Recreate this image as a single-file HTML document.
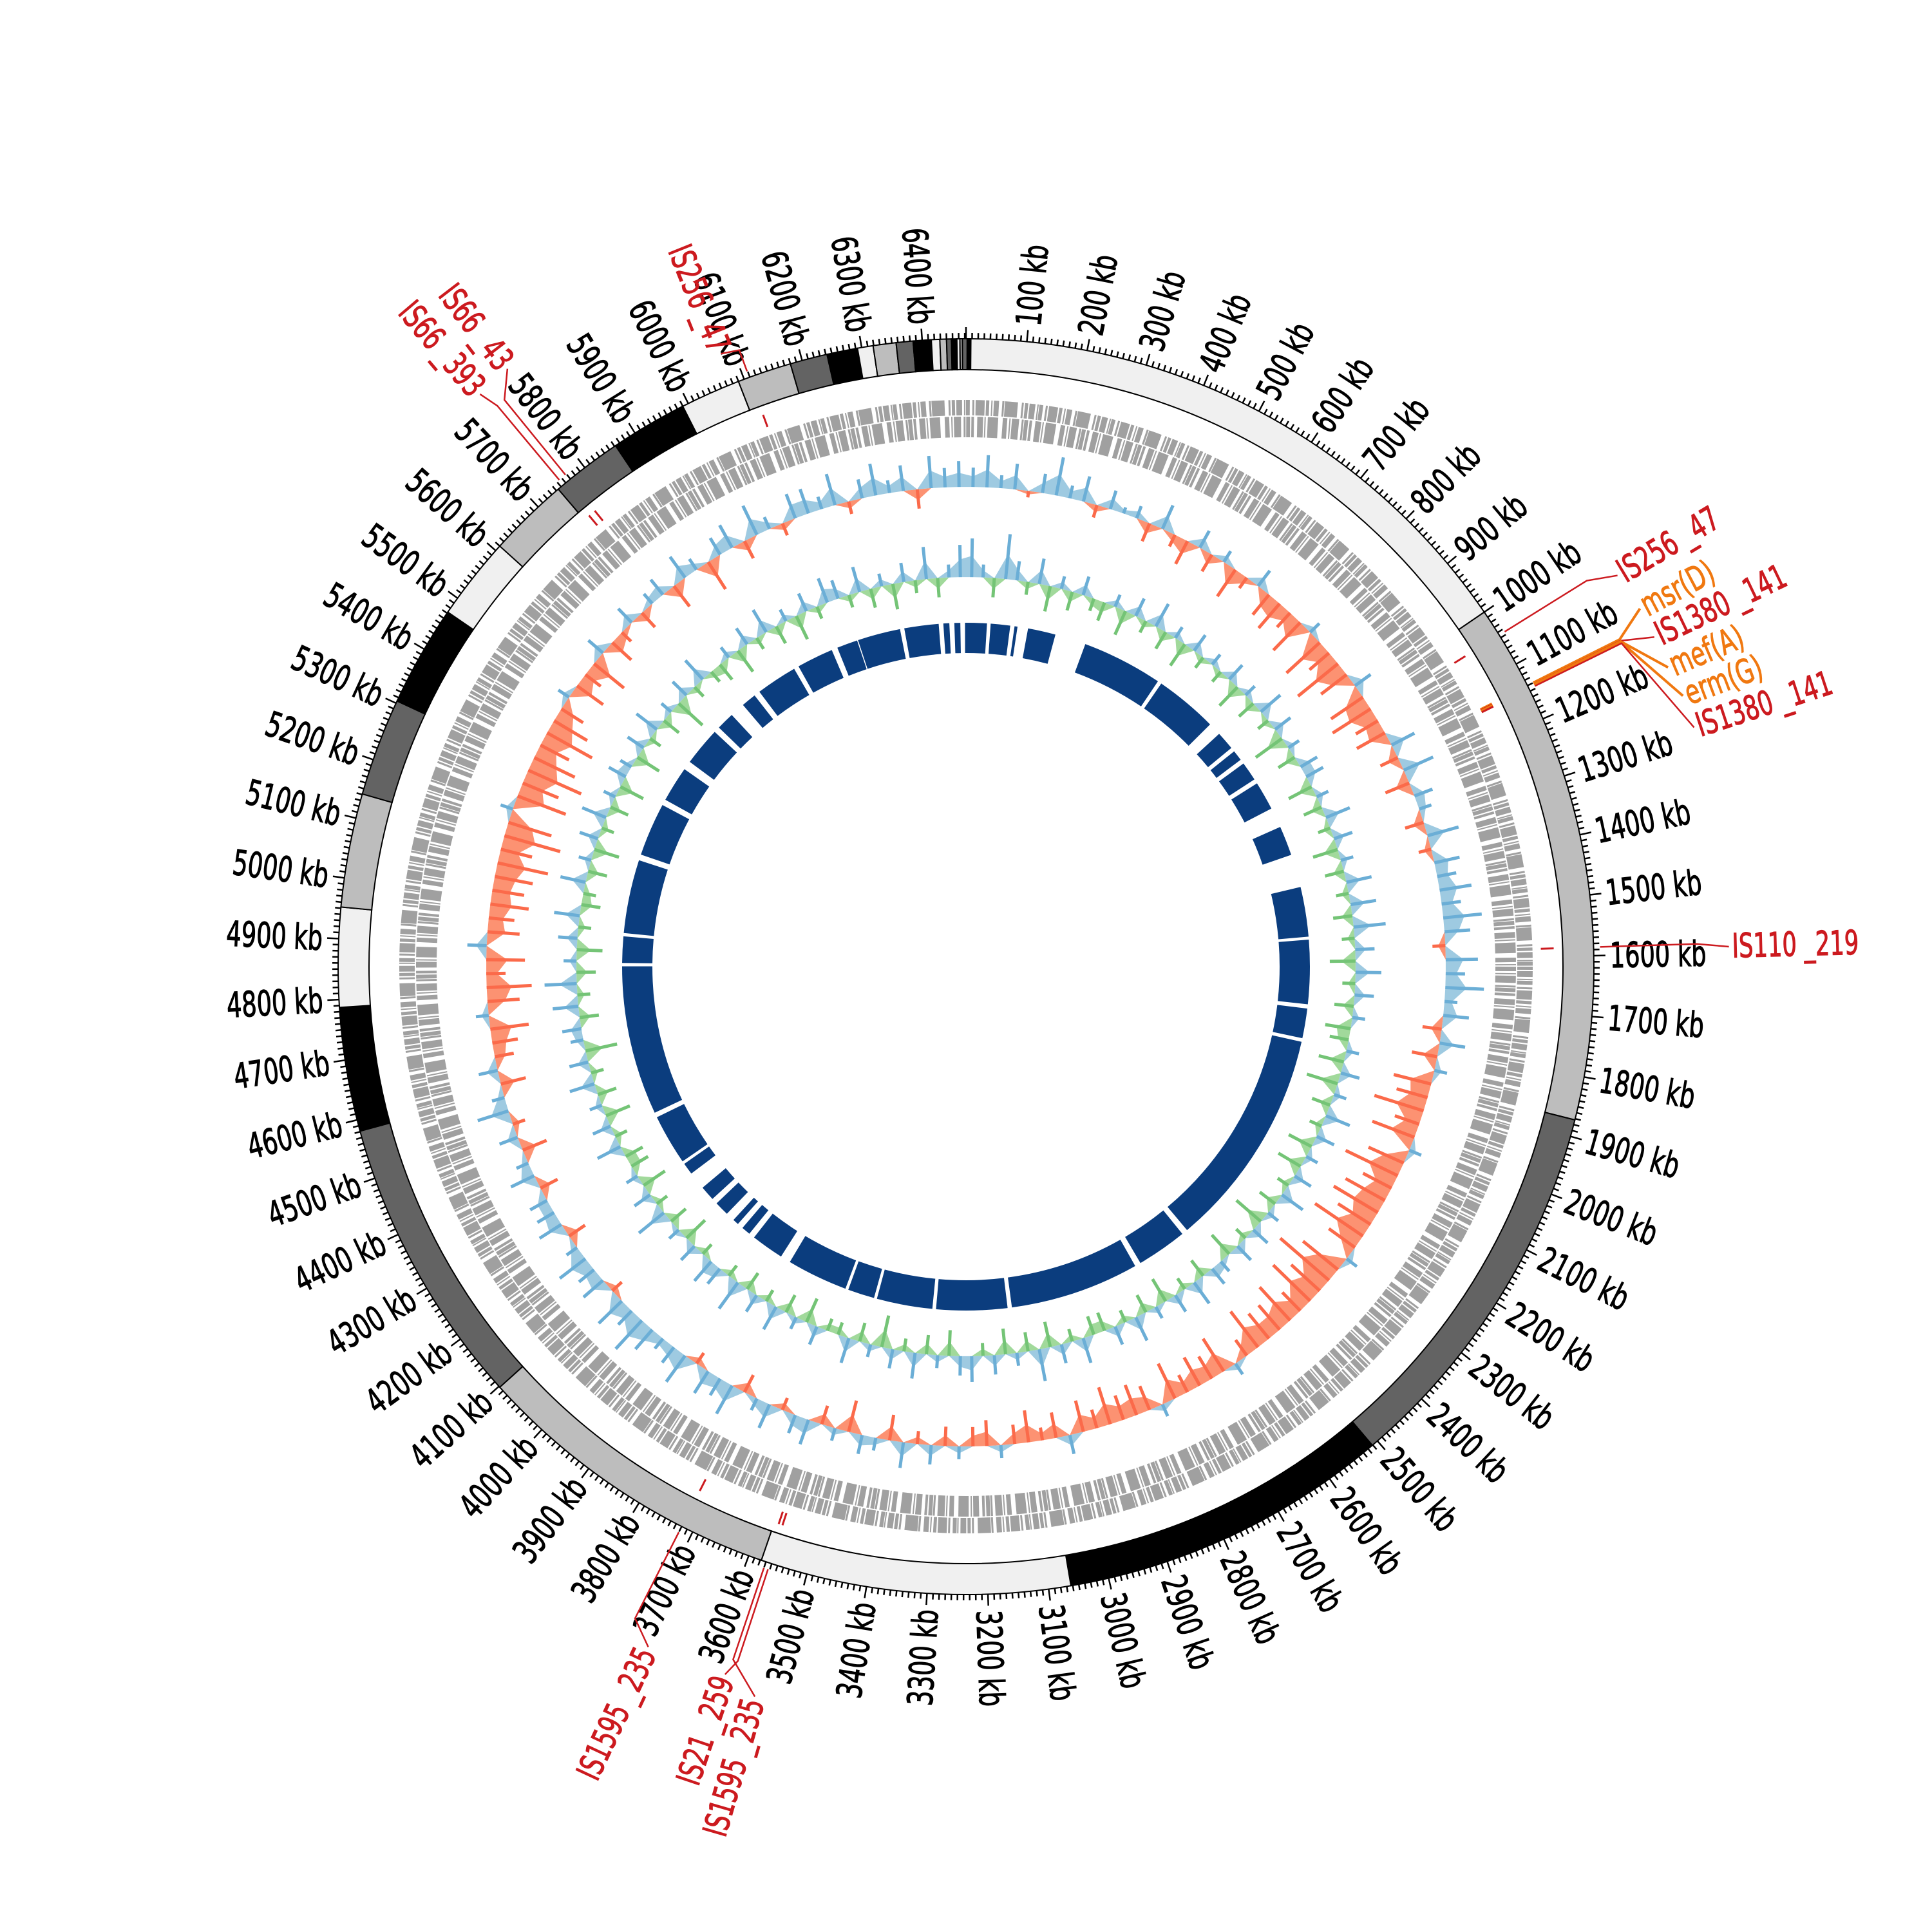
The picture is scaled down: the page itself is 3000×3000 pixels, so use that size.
<!DOCTYPE html>
<html><head><meta charset="utf-8"><style>
html,body{margin:0;padding:0;background:#fff;}
svg{display:block;}
text{font-family:"DejaVu Sans","Liberation Sans",sans-serif;}
</style></head><body>
<svg id="chart" width="3000" height="3000" viewBox="0 0 3000 3000" xmlns="http://www.w3.org/2000/svg">
<rect width="3000" height="3000" fill="#fff"/>
<g id="g-contigs"></g>
<g id="g-ticks"></g>
<g id="g-genes"></g>
<g id="g-skew"></g>
<g id="g-gc"></g>
<g id="g-blocks"></g>
<g id="g-annot"></g>
</svg>
<script>
const TOTAL_KB = 6472;
const contigLengths = [1000,872,639,552,515,520,483,206,165,189,163,168,138,134,118,128,100,90,62,51,26,38,28,30,14,11,8,9,5,4,8,6];
const contigColors = ["#f0f0f0","#bdbdbd","#636363","#000000"];
const tickLabelsKb = [];
for (let k = 100; k <= 6400; k += 100) tickLabelsKb.push(k);
const skewValues = [
0.03,0.05,0.02,0.04,-0.01,0.03,0.06,0.02,0.04,-0.02,0.03,0.01,
0.02,-0.03,0.04,-0.02,-0.04,0.03,-0.03,0.02,-0.05,-0.02,0.03,-0.04,
-0.05,-0.03,-0.06,0.02,-0.07,-0.04,-0.08,-0.05,0.03,-0.06,-0.07,-0.04,
-0.05,0.04,-0.03,0.05,-0.04,0.03,0.02,-0.03,0.05,-0.02,0.04,0.03,
0.05,0.03,0.06,0.04,-0.02,0.05,0.03,0.06,0.02,0.04,-0.03,0.04,
-0.04,0.02,-0.06,-0.05,-0.08,-0.04,-0.07,0.02,-0.06,-0.09,-0.05,-0.07,
-0.08,-0.06,-0.09,-0.05,0.02,-0.07,-0.10,-0.06,-0.08,-0.04,-0.07,-0.05,
-0.05,-0.07,-0.03,0.02,-0.06,-0.04,-0.05,-0.03,-0.06,0.02,-0.04,-0.05,
-0.04,-0.06,-0.03,-0.05,0.03,-0.04,-0.02,-0.05,-0.03,0.02,-0.04,-0.03,
0.02,-0.03,0.03,-0.02,0.04,-0.04,0.02,0.03,-0.05,0.02,-0.03,0.04,
0.03,-0.02,0.04,0.02,-0.03,0.05,0.03,0.04,-0.02,0.05,0.03,0.02,
0.04,0.06,0.03,0.05,-0.02,0.04,0.03,0.05,0.02,-0.03,0.04,0.03,
0.03,-0.03,0.04,0.02,-0.04,0.03,-0.02,0.05,0.02,-0.04,0.03,-0.03,
-0.04,-0.06,0.02,-0.05,-0.07,-0.03,-0.06,0.03,-0.05,-0.04,-0.06,-0.05,
-0.06,-0.08,-0.05,-0.09,-0.07,0.02,-0.08,-0.06,-0.09,-0.07,-0.05,-0.08,
-0.06,-0.04,0.02,-0.05,-0.03,-0.06,0.03,-0.04,-0.02,0.03,-0.03,0.02,
0.03,-0.04,0.04,0.02,-0.05,0.03,0.04,-0.03,0.05,0.02,-0.02,0.04,
0.04,0.02,0.05,-0.02,0.03,0.05,0.02,0.04,-0.03,0.05,0.03,0.04];
const gcValues = [
0.06,0.02,-0.03,0.07,0.03,-0.02,0.04,-0.04,0.02,-0.03,0.03,-0.02,
-0.03,0.02,-0.04,0.03,-0.02,0.04,-0.03,0.02,-0.04,0.03,-0.02,0.02,
-0.02,0.03,-0.04,0.02,-0.03,0.04,-0.02,0.03,-0.05,0.02,-0.03,0.03,
0.03,-0.04,0.02,-0.03,0.04,-0.02,0.03,-0.04,0.02,-0.03,0.04,-0.02,
0.04,-0.03,0.05,-0.02,0.03,-0.04,0.04,-0.02,0.03,-0.03,0.02,-0.04,
-0.03,0.02,-0.04,0.03,-0.05,0.02,-0.03,0.04,-0.02,0.03,-0.04,0.02,
-0.04,0.03,-0.02,0.04,-0.03,0.02,-0.05,0.03,-0.02,0.03,-0.04,0.02,
0.03,-0.03,0.04,-0.02,0.03,-0.04,0.02,-0.03,0.04,-0.02,0.03,-0.03,
-0.03,0.04,-0.02,0.03,-0.04,0.05,-0.03,0.02,-0.04,0.03,-0.02,0.04,
0.03,-0.04,0.02,-0.03,0.04,-0.02,0.03,-0.05,0.02,-0.03,0.04,-0.02,
-0.02,0.03,-0.04,0.02,-0.03,0.04,-0.02,0.03,-0.03,0.05,-0.02,0.03,
0.04,-0.02,0.03,-0.04,0.02,-0.03,0.05,-0.02,0.03,-0.04,0.02,-0.03,
-0.03,0.04,-0.02,0.03,-0.04,0.02,-0.03,0.04,-0.02,0.03,-0.05,0.02,
0.03,-0.03,0.04,-0.02,0.05,-0.03,0.02,-0.04,0.03,-0.02,0.04,-0.03,
-0.02,0.04,-0.03,0.02,-0.04,0.03,-0.02,0.04,-0.03,0.02,-0.04,0.03,
0.02,-0.04,0.03,-0.02,0.04,-0.03,0.02,-0.05,0.03,-0.02,0.04,-0.02,
-0.03,0.02,-0.04,0.03,-0.02,0.04,-0.03,0.02,-0.04,0.03,-0.02,0.04,
0.03,-0.02,0.04,-0.03,0.02,-0.04,0.03,-0.02,0.05,-0.03,0.02,0.05];
const blockStarts = [6469,0,74,146,187,365,622,852,921,967,1039,1187,1377,1537,1744,1845,2535,2706,3111,3337,3515,3605,3821,3938,3983,4028,4090,4189,4234,4402,4865,4955,5196,5376,5511,5646,5745,5808,5948,6077,6143,6286,6404,6437];
const blockEnds   = [6472,63,133,155,271,610,813,908,953,1025,1126,1277,1528,1731,1834,2517,2688,3098,3326,3506,3596,3790,3920,3965,4001,4072,4135,4225,4387,4855,4945,5178,5358,5484,5628,5700,5790,5933,6059,6140,6273,6390,6422,6455];
const annotNames = ["IS256 _47","msr(D)","IS1380 _141","mef(A)","erm(G)","IS1380 _141","IS110 _219","IS1595 _235","IS21 _259","IS1595 _235","IS66 _393","IS66 _43","IS256 _47"];
const annotKb    = [1045,1140,1142,1143,1144,1146,1586,3720,3563,3570,5755,5768,6109];
const annotType  = ["is","arg","is","arg","arg","is","is","is","is","is","is","is","is"];
const annotLabelKb = [1061,1115,1158,1203,1246,1291,1591,3686,3574,3526,5747,5798,6080];
const annotLabelR  = [1185,1190,1190,1190,1195,1195,1190,1171,1166,1185,1171,1175,1030];

const CX = 1500, CY = 1501;
const NS = "http://www.w3.org/2000/svg";
const SX = 0.68;
function ang(kb){ return kb / TOTAL_KB * 2 * Math.PI; }
function pt(r, kb){ const a = ang(kb); return [CX + r*Math.sin(a), CY - r*Math.cos(a)]; }
function el(tag, attrs, parent){ const e = document.createElementNS(NS, tag); for (const k in attrs) e.setAttribute(k, attrs[k]); parent.appendChild(e); return e; }
function sector(r0, r1, k0, k1){
  const a=pt(r1,k0), b=pt(r1,k1), c=pt(r0,k1), d=pt(r0,k0);
  const large = (k1-k0)/TOTAL_KB > 0.5 ? 1 : 0;
  return `M${a[0]},${a[1]}A${r1},${r1} 0 ${large} 1 ${b[0]},${b[1]}L${c[0]},${c[1]}A${r0},${r0} 0 ${large} 0 ${d[0]},${d[1]}Z`;
}
function radialText(parent, str, r, kb, size, color){
  const deg = kb / TOTAL_KB * 360;
  const p = pt(r, kb);
  const right = deg < 180;
  const t = el('text', {x:0, y:0, 'font-size':size, fill:color, stroke:color, 'stroke-width':1.2, 'dominant-baseline':'central',
    'text-anchor': right ? 'start' : 'end',
    transform:`translate(${p[0].toFixed(1)} ${p[1].toFixed(1)}) rotate(${right ? deg-90 : deg+90}) scale(${SX} 1)`}, parent);
  t.textContent = str;
  return t;
}

// contigs
const gC = document.getElementById('g-contigs');
let pos = 0;
contigLengths.forEach((len, i) => {
  const p = el('path', {d: sector(927, 975, pos, pos+len), fill: contigColors[i%4], stroke:'#000', 'stroke-width':2}, gC);
  
  
  pos += len;
});

// ticks
const gT = document.getElementById('g-ticks');
let td = '';
for (let k = 0; k < TOTAL_KB; k += 10) {
  const major = k % 100 === 0;
  const a = pt(975, k), b = pt(major ? 993 : 984, k);
  td += `M${a[0]},${a[1]}L${b[0]},${b[1]}`;
}
const tp = el('path', {d: td, stroke:'#000', 'stroke-width':2.5, fill:'none'}, gT);


tickLabelsKb.forEach(k => {
  const t = radialText(gT, k + ' kb', 1000, k, 54, '#000');
  
  
});

// gene track (approximate density bands)
const gG = document.getElementById('g-genes');
const c1 = el('circle', {cx:CX, cy:CY, r:868, fill:'none', stroke:'#a0a0a0', 'stroke-width':24, 'stroke-dasharray':'5 2 9 3 2 1 6 4 3 2 14 2 5 3 2 2 8 5 3 1 20 6 3 2'}, gG);


const c2 = el('circle', {cx:CX, cy:CY, r:838, fill:'none', stroke:'#a0a0a0', 'stroke-width':32, 'stroke-dasharray':'7 3 2 2 11 4 3 1 6 2 4 5 9 2 2 3 16 7'}, gG);



// signal tracks
function signalTrack(gid, values, base, scale, posFill, posStroke, negFill, negStroke, name){
  const g = document.getElementById(gid);
  const n = values.length, step = TOTAL_KB / n;
  ['pos','neg'].forEach(sign => {
    let fillD = '', lineD = '';
    for (let i = 0; i <= n; i++) {
      const v = values[i % n];
      const vv = sign === 'pos' ? Math.max(v, 0) : Math.min(v, 0);
      const pf = pt(base + vv*scale*0.55, (i + 0.5) * step);
      fillD += (i === 0 ? 'M' : 'L') + pf[0].toFixed(1) + ',' + pf[1].toFixed(1);
      const pb = pt(base, (i + 0.5) * step);
      const pv = pt(base + vv*scale, (i + 0.5) * step);
      if (vv !== 0) lineD += `M${pb[0].toFixed(1)},${pb[1].toFixed(1)}L${pv[0].toFixed(1)},${pv[1].toFixed(1)}`;
    }
    for (let i = n; i >= 0; i--) {
      const p = pt(base, (i + 0.5) * step);
      fillD += 'L' + p[0].toFixed(1) + ',' + p[1].toFixed(1);
    }
    fillD += 'Z';
    const path = el('path', {d: fillD, fill: sign==='pos'?posFill:negFill, stroke:'none'}, g);
    
    
    const sp = el('path', {d: lineD, fill:'none', stroke: sign==='pos'?posStroke:negStroke, 'stroke-width':5}, g);
    
    
  });
}
signalTrack('g-skew', skewValues, 745, 1000, '#9ecae1', '#6baed6', '#fc9272', '#fb6a4a', 'gc-skew');
signalTrack('g-gc', gcValues, 605, 1000, '#9ecae1', '#6baed6', '#a1d99b', '#74c476', 'gc-content');

// blocks
const gB = document.getElementById('g-blocks');
blockStarts.forEach((s, i) => {
  const p = el('path', {d: sector(487, 534, s, blockEnds[i]), fill:'#0b3d7e'}, gB);
  
  
});

// annotations
const gA = document.getElementById('g-annot');
annotNames.forEach((nm, i) => {
  const col = annotType[i] === 'arg' ? '#f07810' : '#cc1a1f';
  const k = annotKb[i];
  const m0 = pt(893, k), m1 = pt(913, k);
  const mk = el('line', {x1:m0[0], y1:m0[1], x2:m1[0], y2:m1[1], stroke:col, 'stroke-width':3}, gA);
  
  
  const lk = annotLabelKb[i], lr = annotLabelR[i];
  const a0 = pt(985, k), a1 = pt(Math.min(1135, lr-10), k), a2 = pt(lr - 5, lk);
  const ld = el('path', {d:`M${a0[0]},${a0[1]}L${a1[0]},${a1[1]}L${a2[0]},${a2[1]}`, stroke:col, 'stroke-width':annotType[i]==='arg'?4:2.5, fill:'none'}, gA);
  
  
  const t = radialText(gA, nm, lr, lk, 52, col);
  
  
});
</script>
</body></html>
